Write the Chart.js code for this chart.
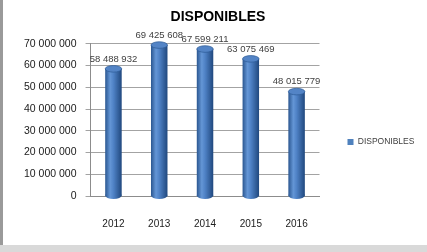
<!DOCTYPE html>
<html>
<head>
<meta charset="utf-8">
<script src="https://cdn.jsdelivr.net/npm/chart.js@4/dist/chart.umd.min.js"></script>
<style>
  html, body { margin: 0; padding: 0; background: #d9d9d9; }
  #wrap { position: absolute; left: 0; top: 0; width: 424px; height: 245px;
          border-left: 3px solid #9a9a9a; background: #fff; }
</style>
</head>
<body>
<div id="wrap"><canvas id="c" width="424" height="245"></canvas></div>
<script>
const years = ['2012', '2013', '2014', '2015', '2016'];
const disponibles = [58488932, 69425608, 67599211, 63075469, 48015779];
const yTicks = [0, 10000000, 20000000, 30000000, 40000000, 50000000, 60000000, 70000000];

const BAR_PCT = 0.36;

function fmt(v) {
    return String(v).replace(/\B(?=(\d{3})+(?!\d))/g, ' ');
}

function cylGradient(ctx, l, r) {
    const g = ctx.createLinearGradient(l, 0, r, 0);
    g.addColorStop(0, '#2a5690');
    g.addColorStop(0.3, '#6496d6');
    g.addColorStop(0.5, '#4f82c6');
    g.addColorStop(1, '#20487e');
    return g;
}

// cylinder caps and value labels
const cylinder = {
    id: 'cylinder',
    afterLayout(chart) {
        chart.legend.top += 20;
        chart.legend.bottom += 20;
    },
    beforeDatasetsDraw(chart) {
        const ctx = chart.ctx;
        chart.getDatasetMeta(0).data.forEach(bar => {
            ctx.save();
            ctx.fillStyle = cylGradient(ctx, bar.x - bar.width / 2, bar.x + bar.width / 2);
            ctx.beginPath();
            ctx.ellipse(bar.x, bar.base, bar.width / 2, bar.width / 5, 0, 0, Math.PI * 2);
            ctx.fill();
            ctx.restore();
        });
    },
    afterDatasetsDraw(chart) {
        const ctx = chart.ctx;
        chart.getDatasetMeta(0).data.forEach((bar, i) => {
            ctx.save();
            ctx.fillStyle = '#5384c6';
            ctx.strokeStyle = '#2c5a95';
            ctx.lineWidth = 0.7;
            ctx.beginPath();
            ctx.ellipse(bar.x, bar.y, bar.width / 2, bar.width / 5, 0, 0, Math.PI * 2);
            ctx.fill();
            ctx.stroke();
            ctx.fillStyle = '#404040';
            ctx.font = '9.5px "Liberation Sans", Arial, sans-serif';
            ctx.textAlign = 'center';
            ctx.textBaseline = 'bottom';
            ctx.fillText(fmt(disponibles[i]), bar.x, bar.y - 5);
            ctx.restore();
        });
    }
};

new Chart(document.getElementById('c'), {
    type: 'bar',
    data: {
        labels: years,
        datasets: [{
            label: 'DISPONIBLES',
            data: disponibles,
            backgroundColor: c => {
                const xs = c.chart.scales.x;
                if (!xs || c.dataIndex === undefined) return '#4f81bd';
                const x = xs.getPixelForValue(c.dataIndex);
                const w = xs.width / years.length * BAR_PCT;
                if (!Number.isFinite(x) || !Number.isFinite(w)) return '#4f81bd';
                return cylGradient(c.chart.ctx, x - w / 2, x + w / 2);
            },
            borderWidth: 0,
            barPercentage: BAR_PCT,
            categoryPercentage: 1
        }]
    },
    plugins: [cylinder],
    options: {
        responsive: false,
        animation: false,
        layout: { padding: { left: 12, right: 6, top: 0, bottom: 1 } },
        plugins: {
            title: {
                display: true,
                text: 'DISPONIBLES',
                color: '#000',
                font: { family: '"Liberation Sans", Arial, sans-serif', size: 14, weight: 'bold' },
                padding: { top: 9, bottom: 18 }
            },
            legend: {
                position: 'right',
                labels: {
                    boxWidth: 6,
                    boxHeight: 6,
                    padding: 28,
                    color: '#404040',
                    font: { family: '"Liberation Sans", Arial, sans-serif', size: 8.5 },
                    generateLabels(chart) {
                        const items = Chart.defaults.plugins.legend.labels.generateLabels(chart);
                        items.forEach(it => { it.fillStyle = '#4f81bd'; it.strokeStyle = '#4f81bd'; });
                        return items;
                    }
                }
            },
            tooltip: { enabled: false }
        },
        scales: {
            y: {
                min: 0,
                max: 70000000,
                afterBuildTicks(axis) { axis.ticks = yTicks.map(v => ({ value: v })); },
                grid: { color: '#8c8c8c', lineWidth: 0.8, tickLength: 5 },
                border: { color: '#8c8c8c' },
                ticks: {
                    color: '#202020',
                    padding: 9,
                    font: { family: '"Liberation Sans", Arial, sans-serif', size: 10.5 },
                    callback: v => fmt(v)
                }
            },
            x: {
                grid: { display: false },
                border: { color: '#8c8c8c' },
                ticks: {
                    color: '#202020',
                    padding: 14,
                    font: { family: '"Liberation Sans", Arial, sans-serif', size: 10 }
                }
            }
        }
    }
});
</script>
</body>
</html>
